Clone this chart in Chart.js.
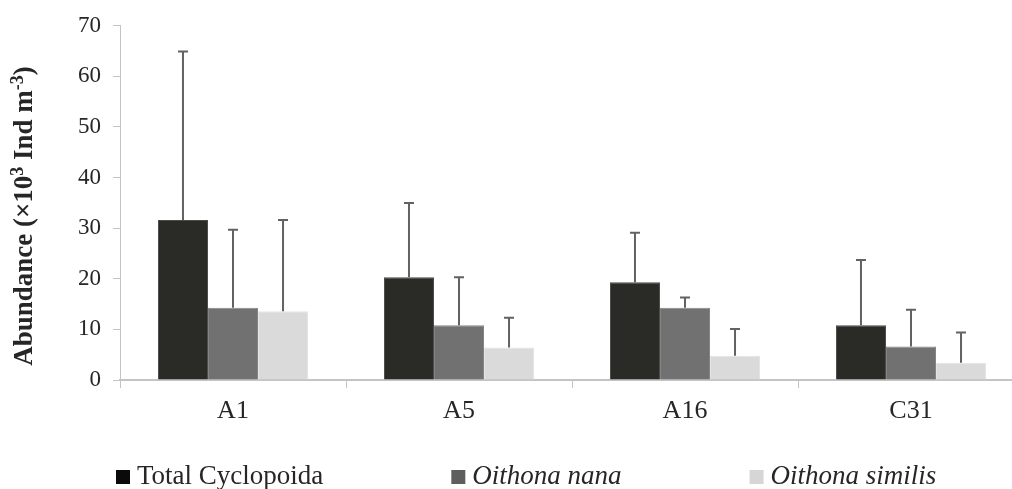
<!DOCTYPE html>
<html>
<head>
<meta charset="utf-8">
<script src="https://cdn.jsdelivr.net/npm/chart.js@4/dist/chart.umd.min.js"></script>
<style>
  html, body { margin: 0; padding: 0; background: #fff; overflow: hidden; }
  #wrap { position: relative; width: 1024px; height: 489px; }
  .probe { font-family: "Liberation Serif"; position: absolute; left: -999px; }
</style>
</head>
<body>
<div id="wrap"><canvas id="c" width="1024" height="489"></canvas></div>
<span class="probe">A</span><span class="probe" style="font-style:italic">A</span><span class="probe" style="font-weight:bold">A</span>
<script>
// Cyclopoid abundance per station (mean and standard deviation, ×10³ ind m⁻³)
const stations = ['A1', 'A5', 'A16', 'C31'];
const totalMean = [31.6, 20.3, 19.3, 10.8];
const totalSD = [33.3, 14.7, 9.8, 12.9];
const nanaMean = [14.3, 10.8, 14.3, 6.6];
const nanaSD = [15.4, 9.5, 2.0, 7.3];
const similisMean = [13.6, 6.4, 4.8, 3.4];
const similisSD = [18.0, 5.9, 5.3, 6.0];
const seriesNames = ['Total Cyclopoida', 'Oithona nana', 'Oithona similis'];
const seriesItalic = [false, true, true];
const yMin = 0, yMax = 70, yStep = 10;

const SERIF = "'Liberation Serif', serif";
const TEXT = '#262626';
const AXIS = '#c4c4c4';

// One-sided (upper) error bars from each bar top
const errorBars = {
  id: 'errorBars',
  afterDatasetsDraw(chart) {
    const ctx = chart.ctx;
    const y = chart.scales.y;
    ctx.save();
    chart.data.datasets.forEach((ds, di) => {
      const meta = chart.getDatasetMeta(di);
      meta.data.forEach((bar, i) => {
        const top = y.getPixelForValue(ds.data[i] + ds.sd[i]);
        ctx.strokeStyle = '#626262';
        ctx.lineWidth = 2;
        ctx.beginPath();
        ctx.moveTo(bar.x, bar.y);
        ctx.lineTo(bar.x, top);
        ctx.moveTo(bar.x - 5, top);
        ctx.lineTo(bar.x + 5, top);
        ctx.stroke();
      });
    });
    ctx.restore();
  }
};

// Legend with per-series font style (species names in italics)
const seriesLegend = {
  id: 'seriesLegend',
  afterDraw(chart) {
    const ctx = chart.ctx;
    ctx.save();
    const size = 27, box = 14, gap = 128, midY = 477;
    let x = 116;
    ctx.textBaseline = 'middle';
    chart.data.datasets.forEach((ds, i) => {
      ctx.fillStyle = ds.legendColor;
      ctx.fillRect(x, midY - box / 2, box, box);
      ctx.font = (seriesItalic[i] ? 'italic ' : '') + size + "px 'Liberation Serif', serif";
      ctx.fillStyle = TEXT;
      const tx = x + box + 7;
      ctx.fillText(ds.label, tx, midY);
      x = tx + ctx.measureText(ds.label).width + gap;
    });
    ctx.restore();
  }
};

// Rotated y-axis title with true superscripts
const yTitle = {
  id: 'yTitle',
  afterDraw(chart) {
    const ctx = chart.ctx;
    const parts = [
      ['Abundance (\u00d710', false], ['3', true], [' Ind m', false], ['-3', true], [')', false]
    ];
    const size = 27, sup = 18;
    const fnt = s => 'bold ' + s + "px 'Liberation Serif', serif";
    ctx.save();
    let total = 0;
    parts.forEach(([t, s]) => { ctx.font = fnt(s ? sup : size); total += ctx.measureText(t).width; });
    ctx.translate(25, 216);
    ctx.rotate(-Math.PI / 2);
    ctx.fillStyle = TEXT;
    ctx.textBaseline = 'middle';
    let x = -total / 2;
    parts.forEach(([t, s]) => {
      ctx.font = fnt(s ? sup : size);
      ctx.fillText(t, x, s ? -7 : 0);
      x += ctx.measureText(t).width;
    });
    ctx.restore();
  }
};

function build() {
  new Chart(document.getElementById('c'), {
    type: 'bar',
    data: {
      labels: stations,
      datasets: [
        { label: seriesNames[0], data: totalMean, sd: totalSD, backgroundColor: '#2a2a26', borderColor: '#4a4a46', borderWidth: 1, legendColor: '#0a0a0a' },
        { label: seriesNames[1], data: nanaMean, sd: nanaSD, backgroundColor: '#717171', borderColor: '#858585', borderWidth: 1, legendColor: '#5e5e5e' },
        { label: seriesNames[2], data: similisMean, sd: similisSD, backgroundColor: '#d9dad9', borderColor: '#e3e4e3', borderWidth: 1, legendColor: '#d6d6d6' }
      ]
    },
    options: {
      responsive: false,
      animation: false,
      devicePixelRatio: 1,
      categoryPercentage: 0.664,
      barPercentage: 1.0,
      layout: { padding: { top: 23, left: 0, right: 0, bottom: 41 } },
      plugins: { legend: { display: false }, tooltip: { enabled: false } },
      scales: {
        x: {
          grid: { offset: true, drawOnChartArea: false, color: AXIS, tickLength: 8, lineWidth: 1 },
          border: { color: AXIS, width: 2 },
          ticks: { color: TEXT, font: { family: SERIF, size: 26 }, padding: 8 },
          afterFit(s) { s.height = 68; }
        },
        y: {
          min: yMin, max: yMax,
          grid: { drawOnChartArea: false, color: AXIS, tickLength: 7 },
          border: { color: AXIS, width: 1 },
          ticks: { stepSize: yStep, color: TEXT, font: { family: SERIF, size: 23 }, padding: 12 },
          afterFit(s) { s.width = 120; }
        }
      }
    },
    plugins: [errorBars, seriesLegend, yTitle]
  });
}

Promise.all([
  document.fonts.load("26px 'Liberation Serif'"),
  document.fonts.load("italic 26px 'Liberation Serif'"),
  document.fonts.load("bold 26px 'Liberation Serif'")
]).then(build, build);
</script>
</body>
</html>
